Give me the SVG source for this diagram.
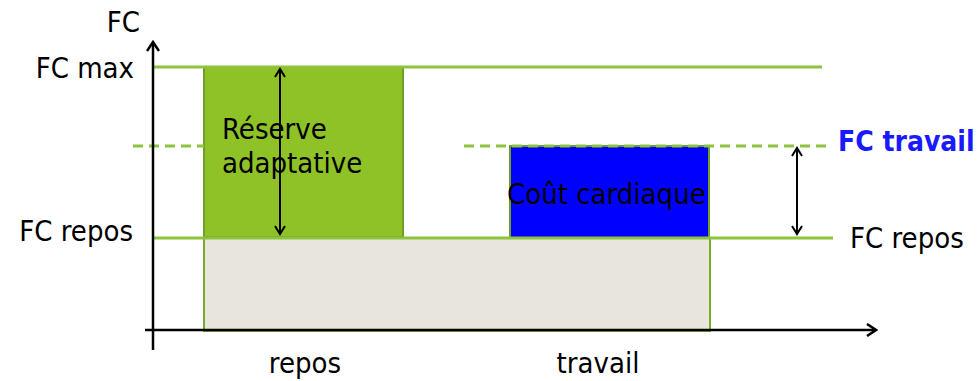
<svg xmlns="http://www.w3.org/2000/svg" width="979" height="381" viewBox="0 0 979 381">
<style>
text{font-family:"DejaVu Sans Condensed","DejaVu Sans",sans-serif;font-stretch:condensed;fill:#000;font-size:29px}
.gl{stroke:#8cc43c;stroke-width:3;fill:none}
.dash{stroke:#8cc43c;stroke-width:3;stroke-dasharray:10 6;fill:none}
.ax{stroke:#000;stroke-width:2.5;fill:none}
.dbl{stroke:#000;stroke-width:2;fill:none;marker-start:url(#hs);marker-end:url(#he)}
</style>
<defs>
<marker id="he" viewBox="0 0 12 12" refX="10" refY="6" markerWidth="12" markerHeight="12" markerUnits="userSpaceOnUse" orient="auto"><polyline points="2,1 10,6 2,11" fill="none" stroke="#000" stroke-width="2"/></marker>
<marker id="hs" viewBox="0 0 12 12" refX="2" refY="6" markerWidth="12" markerHeight="12" markerUnits="userSpaceOnUse" orient="auto"><polyline points="10,1 2,6 10,11" fill="none" stroke="#000" stroke-width="2"/></marker>
<marker id="ah" viewBox="0 0 14 14" refX="12" refY="7" markerWidth="14" markerHeight="14" markerUnits="userSpaceOnUse" orient="auto"><polyline points="3,1 12,7 3,13" fill="none" stroke="#000" stroke-width="2.5"/></marker>
</defs>
<g id="base">
<rect x="204" y="238" width="506" height="93" fill="#e8e6dc" stroke="#7aab2e" stroke-width="2"/>
</g>
<g id="reserve">
<rect x="204" y="67" width="199" height="170" fill="#8fc226" stroke="#6f9e2a" stroke-width="2"/>
</g>
<g id="cout">
<rect x="510" y="146" width="199" height="92" fill="#0000ff" stroke="#6f9e2a" stroke-width="2"/>
</g>
<g id="connectors">
<line class="gl" x1="153" y1="67" x2="822" y2="67"/>
<line class="gl" x1="153" y1="238" x2="833" y2="238"/>
<line class="dash" x1="133" y1="146" x2="204" y2="146"/>
<line class="dash" x1="464" y1="146" x2="826" y2="146"/>
<line class="ax" x1="153" y1="350" x2="153" y2="42" marker-end="url(#ah)"/>
<line class="ax" x1="145" y1="330" x2="876" y2="330" marker-end="url(#ah)"/>
<line class="dbl" x1="280" y1="69" x2="280" y2="234"/>
<line class="dbl" x1="797" y1="148" x2="797" y2="234"/>
</g>
<g id="labels">
<text x="140" y="32" text-anchor="end">FC</text>
<text x="134" y="78" text-anchor="end">FC max</text>
<text x="133" y="241" text-anchor="end">FC repos</text>
<text x="838" y="151" style="font-size:28px;font-weight:bold;fill:#1a1aff">FC travail</text>
<text x="850" y="248">FC repos</text>
<text x="305" y="373" text-anchor="middle">repos</text>
<text x="598" y="373" text-anchor="middle">travail</text>
<text x="222" y="139">Réserve</text>
<text x="222" y="173">adaptative</text>
<text x="507" y="204">Coût cardiaque</text>
</g>
</svg>
